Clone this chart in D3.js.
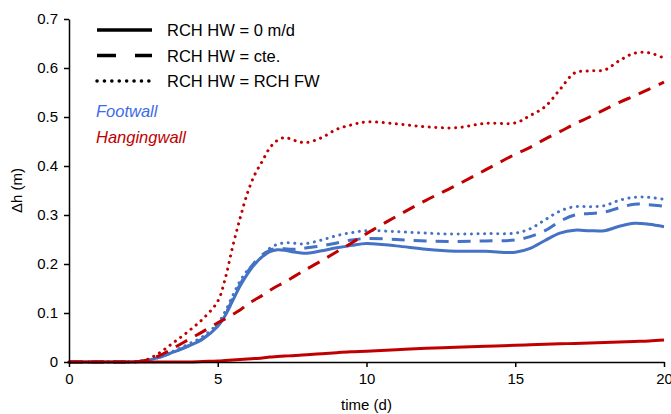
<!DOCTYPE html>
<html>
<head>
<meta charset="utf-8">
<script src="https://cdn.jsdelivr.net/npm/d3@7"></script>
<style>
  body { margin: 0; background: #fff; }
  text { font-family: "Liberation Sans", Arial, sans-serif; }
</style>
</head>
<body>
<script>
// time grid (d)
const time = [0, 1, 2, 2.5, 3, 3.5, 4, 4.5, 5, 5.25, 5.5, 5.75, 6, 6.25, 6.5, 6.75, 7, 7.25, 7.5, 7.75,
    8, 8.5, 9, 9.5, 10, 11, 12, 13, 14, 15, 15.5, 16, 16.5, 17, 17.5, 18, 18.5, 19, 19.5, 20];

// Footwall
const fw0 = [0, 0, 0, 0.002, 0.009, 0.02, 0.032, 0.047, 0.073, 0.095, 0.125, 0.155, 0.18, 0.2, 0.215, 0.225, 0.229, 0.228, 0.225, 0.223,
    0.222, 0.227, 0.233, 0.238, 0.242, 0.237, 0.23, 0.226, 0.226, 0.224, 0.232, 0.248, 0.263, 0.269, 0.268, 0.268, 0.277, 0.283, 0.281, 0.276];
const fwCte = [0, 0, 0, 0.002, 0.009, 0.02, 0.033, 0.048, 0.074, 0.097, 0.128, 0.158, 0.184, 0.204, 0.219, 0.228, 0.232, 0.231, 0.23, 0.231,
    0.233, 0.237, 0.243, 0.249, 0.252, 0.25, 0.247, 0.246, 0.247, 0.249, 0.256, 0.268, 0.287, 0.3, 0.303, 0.306, 0.315, 0.322, 0.321, 0.318];
const fwFw = [0, 0, 0, 0.003, 0.01, 0.022, 0.036, 0.052, 0.079, 0.103, 0.135, 0.165, 0.187, 0.201, 0.216, 0.232, 0.24, 0.243, 0.243, 0.241,
    0.242, 0.249, 0.258, 0.264, 0.268, 0.266, 0.263, 0.261, 0.262, 0.263, 0.272, 0.29, 0.308, 0.317, 0.317, 0.319, 0.33, 0.336, 0.336, 0.332];

// Hangingwall
const hw0 = [0, 0, 0, 0, 0, 0, 0, 0.001, 0.002, 0.003, 0.004, 0.005, 0.006, 0.007, 0.008, 0.01, 0.011, 0.012, 0.013, 0.014,
    0.015, 0.017, 0.019, 0.021, 0.022, 0.025, 0.028, 0.03, 0.032, 0.034, 0.035, 0.036, 0.037, 0.038, 0.039, 0.04, 0.041, 0.042, 0.043, 0.045];
const hwCte = [0, 0, 0, 0.002, 0.012, 0.028, 0.045, 0.062, 0.08, 0.088, 0.097, 0.106, 0.118, 0.127, 0.136, 0.146, 0.155, 0.163, 0.172, 0.181,
    0.19, 0.207, 0.225, 0.243, 0.262, 0.297, 0.33, 0.36, 0.392, 0.424, 0.438, 0.455, 0.47, 0.486, 0.5, 0.515, 0.53, 0.543, 0.557, 0.571];
const hwFw = [0, 0, 0, 0.002, 0.017, 0.039, 0.062, 0.088, 0.124, 0.17, 0.235, 0.293, 0.345, 0.383, 0.41, 0.437, 0.452, 0.458, 0.454, 0.449,
    0.448, 0.458, 0.475, 0.484, 0.49, 0.486, 0.48, 0.478, 0.487, 0.488, 0.503, 0.521, 0.556, 0.59, 0.594, 0.596, 0.615, 0.63, 0.631, 0.62];

const xTicks = [0, 5, 10, 15, 20];
const yTicks = [0, 0.1, 0.2, 0.3, 0.4, 0.5, 0.6, 0.7];
const legendLabels = ['RCH HW = 0 m/d', 'RCH HW = cte.', 'RCH HW = RCH FW'];
const groupLabels = ['Footwall', 'Hangingwall'];

const W = 671, H = 414;
const margin = { top: 19, right: 7, bottom: 52, left: 69 };
const width = W - margin.left - margin.right;
const height = H - margin.top - margin.bottom;

const blue = '#4472C4', red = '#C00000';
const dashStyles = [null, '13,9', '0.1,6.5'];

const svg = d3.select('body').append('svg')
    .attr('width', W)
    .attr('height', H);

const g = svg.append('g')
    .attr('transform', `translate(${margin.left}, ${margin.top})`);

const x = d3.scaleLinear().domain([0, 20]).range([0, width]);
const y = d3.scaleLinear().domain([0, 0.7]).range([height, 0]);

// smoothed like the spreadsheet lines
const line = d3.line()
    .curve(d3.curveCatmullRom.alpha(0.5))
    .x(d => x(d[0]))
    .y(d => y(Math.max(0, d[1])));

const series = [
    { values: fw0, color: blue, style: 0 },
    { values: fwCte, color: blue, style: 1 },
    { values: fwFw, color: blue, style: 2 },
    { values: hw0, color: red, style: 0 },
    { values: hwCte, color: red, style: 1 },
    { values: hwFw, color: red, style: 2 },
];

series.forEach(s => {
    g.append('path')
        .datum(time.map((t, i) => [t, s.values[i]]))
        .attr('fill', 'none')
        .attr('stroke', s.color)
        .attr('stroke-width', 3)
        .attr('stroke-linecap', s.style === 2 ? 'round' : 'butt')
        .attr('stroke-dasharray', dashStyles[s.style])
        .attr('d', line);
});

// axes
const xAxis = g.append('g')
    .attr('transform', `translate(0, ${height})`)
    .call(d3.axisBottom(x).tickValues(xTicks).tickSize(5).tickSizeOuter(0));
const yAxis = g.append('g')
    .call(d3.axisLeft(y).tickValues(yTicks).tickFormat(d => d === 0 ? '0' : d3.format('.1f')(d)).tickSize(5).tickSizeOuter(0));

[xAxis, yAxis].forEach(a => {
    a.select('.domain').attr('stroke', '#000').attr('stroke-width', 1.5);
    a.selectAll('.tick line').attr('stroke', '#000').attr('stroke-width', 1.5);
    a.selectAll('.tick text').attr('font-size', 15).attr('fill', '#000')
        .attr('font-family', '"Liberation Sans", Arial, sans-serif');
});
xAxis.selectAll('.tick text').attr('dy', '0.95em');
yAxis.selectAll('.tick text').attr('dx', '-0.2em');

svg.append('text')
    .attr('x', margin.left + width / 2)
    .attr('y', 410)
    .attr('text-anchor', 'middle')
    .attr('font-size', 15)
    .text('time (d)');

svg.append('text')
    .attr('transform', `translate(22, ${margin.top + height / 2}) rotate(-90)`)
    .attr('text-anchor', 'middle')
    .attr('font-size', 15)
    .text('Δh (m)');

// legend
const legend = svg.append('g');
const legendDash = [null, '19,19', '0.1,7.3'];
legendLabels.forEach((lab, i) => {
    const ly = 30 + i * 25.5;
    legend.append('line')
        .attr('x1', 97).attr('x2', 152)
        .attr('y1', ly).attr('y2', ly)
        .attr('stroke', '#000')
        .attr('stroke-width', 3.5)
        .attr('stroke-linecap', i === 2 ? 'round' : 'butt')
        .attr('stroke-dasharray', legendDash[i]);
    legend.append('text')
        .attr('x', 167).attr('y', ly + 6)
        .attr('font-size', 16.5)
        .attr('fill', '#000')
        .text(lab);
});
groupLabels.forEach((lab, i) => {
    legend.append('text')
        .attr('x', 96).attr('y', 117 + i * 26)
        .attr('font-size', 16.5)
        .attr('font-style', 'italic')
        .attr('fill', i === 0 ? '#3D6BEA' : red)
        .text(lab);
});
</script>
</body>
</html>
